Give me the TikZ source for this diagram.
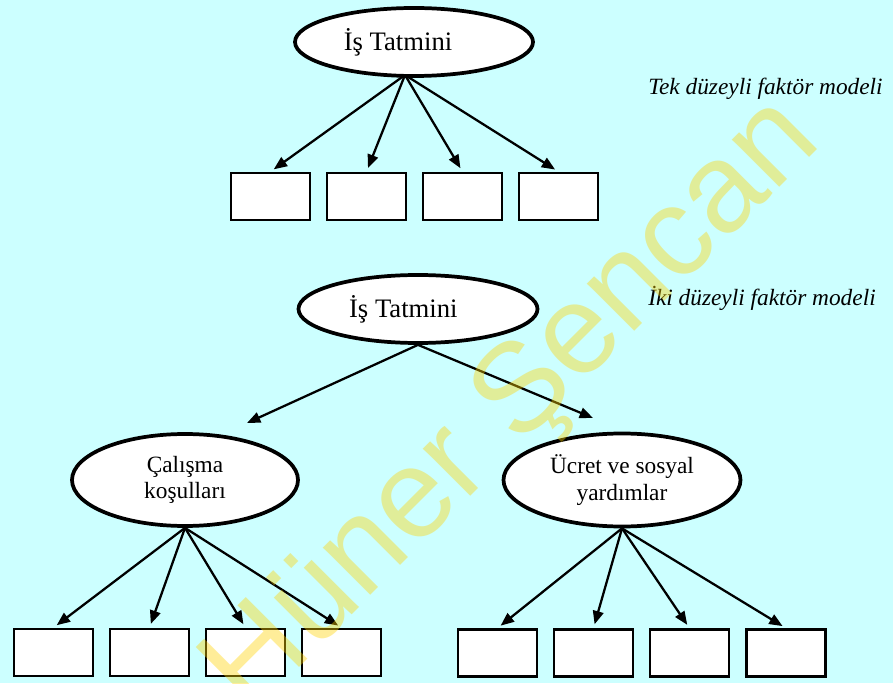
\documentclass[tikz,border=0pt]{standalone}
\usepackage{fontspec}
\setmainfont{Liberation Serif}
\newfontfamily\wmfont{Liberation Sans}
\usepackage{tikz}
\usetikzlibrary{positioning,arrows.meta,shapes.geometric}
\definecolor{bg-cyan}{RGB}{204,255,255}
\definecolor{wm-yellow}{RGB}{255,212,0}
\newdimen\hspx
\setlength{\hspx}{0.75pt}
\tikzstyle{latentstyle}=[shape=ellipse,draw,line width=2.8pt,fill=white,inner sep=0pt,align=center]
\tikzstyle{itemstyle}=[shape=rectangle,draw,line width=2pt,fill=white,minimum width=79\hspx,minimum height=47\hspx,inner sep=0pt]
\tikzstyle{loadstyle}=[-{Triangle[length=10pt,width=8pt]},line width=1.7pt,shorten >=3pt]
\tikzstyle{modelstyle}=[anchor=base west,inner sep=0pt,font=\fontsize{17.5}{20}\selectfont\itshape]
\newcommand{\hslatent}[7]{ \draw (#2 \hspx,#3 \hspx) node [style=latentstyle,minimum width=#4 \hspx,minimum height=#5 \hspx,font=\fontsize{#6}{20}\selectfont] (#1) {#7}; }
\newcommand{\hsitem}[3]{ \draw (#2 \hspx,#3 \hspx) node [style=itemstyle] (#1) {}; }
\newcommand{\hsload}[2]{ \draw [style=loadstyle] (#1) -- (#2.north); }

\begin{document}
\begin{tikzpicture}
\fill [bg-cyan] (0,0) rectangle (893 \hspx,683 \hspx); %
\useasboundingbox (0,0) rectangle (893 \hspx,683 \hspx); %
% tek duzeyli
\hslatent{top}{414}{641}{238}{68}{20}{İş Tatmini\hspace*{24pt}} %
\hsitem{t1}{270.5}{486.5} %
\hsitem{t2}{366.5}{486.5} %
\hsitem{t3}{462.5}{486.5} %
\hsitem{t4}{558.5}{486.5} %
\coordinate (topfoot) at (405 \hspx,608 \hspx); %
\hsload{topfoot}{t1} %
\hsload{topfoot}{t2} %
\hsload{topfoot}{t3} %
\hsload{topfoot}{t4} %
\draw (648 \hspx,588 \hspx) node [style=modelstyle] (onelevel) {Tek düzeyli faktör modeli}; %
% iki duzeyli
\hslatent{top2}{418}{374}{239}{68}{20}{İş Tatmini\hspace*{22pt}} %
\hslatent{cal}{185}{203}{226}{92}{17.5}{Çalışma\\koşulları} %
\hslatent{ucr}{622}{203}{237}{93}{17.5}{Ücret ve sosyal\\yardımlar} %
\coordinate (calhead) at (247 \hspx,260 \hspx); %
\coordinate (ucrhead) at (593 \hspx,265 \hspx); %
\draw [style=loadstyle,shorten >=0pt] (top2.south) -- (calhead); %
\draw [style=loadstyle,shorten >=0pt] (top2.south) -- (ucrhead); %
\draw (648 \hspx,377 \hspx) node [style=modelstyle] (twolevel) {İki düzeyli faktör modeli}; %
\hsitem{c1}{53.5}{30.5} %
\hsitem{c2}{149.5}{30.5} %
\hsitem{c3}{245.5}{30.5} %
\hsitem{c4}{341.5}{30.5} %
\hsitem{u1}{497.5}{30} %
\hsitem{u2}{593.5}{30} %
\hsitem{u3}{689.5}{30} %
\hsitem{u4}{786}{30} %
\hsload{cal.south}{c1} %
\hsload{cal.south}{c2} %
\hsload{cal.south}{c3} %
\hsload{cal.south}{c4} %
\hsload{ucr.south}{u1} %
\hsload{ucr.south}{u2} %
\hsload{ucr.south}{u3} %
\hsload{ucr.south}{u4} %
% filigran
\draw (515 \hspx,275 \hspx) node [rotate=45,text=wm-yellow,text opacity=0.4,font=\wmfont\fontsize{95}{95}\selectfont] (wm) {Hüner Şencan}; %
\end{tikzpicture}
\end{document}
